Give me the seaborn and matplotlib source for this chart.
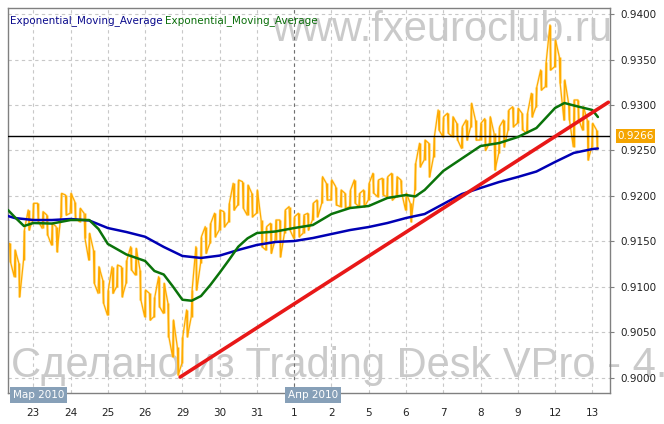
import matplotlib
matplotlib.use("Agg")
import matplotlib.pyplot as plt
import matplotlib.transforms as mtransforms
import numpy as np
import pandas as pd
import seaborn as sns

# %%
# trading days on the x axis (weekends are skipped), index 0 = 23 Mar 2010
day_labels = ["23", "24", "25", "26", "29", "30", "31", "1",
              "2", "5", "6", "7", "8", "9", "12", "13"]
month_labels = ["Мар 2010", "Апр 2010"]

# price, 3-hour bars starting late on 22 Mar
bar_start = -0.625
bar_step = 0.125
price_high = [
    0.91480, 0.91407, 0.91260, 0.91626, 0.91846, 0.91920, 0.91920, 0.91828,
    0.91791, 0.91700, 0.91663, 0.92029, 0.92011, 0.92029, 0.91938, 0.91865,
    0.91810, 0.91590, 0.91407, 0.91223, 0.91077, 0.90967, 0.91223, 0.91242,
    0.91223, 0.91297, 0.91443, 0.91425, 0.91187, 0.90967, 0.90931, 0.90894,
    0.91113, 0.91041, 0.90821, 0.90637, 0.90344, 0.90454, 0.90747, 0.90967,
    0.91443, 0.91553, 0.91663, 0.91700, 0.91810, 0.91846, 0.91828, 0.91920,
    0.92139, 0.92176, 0.92157, 0.92120, 0.92030, 0.92066, 0.91736, 0.91663,
    0.91700, 0.91736, 0.91736, 0.91846, 0.91883, 0.91773, 0.91810, 0.91791,
    0.91810, 0.91920, 0.91956, 0.92212, 0.92139, 0.92176, 0.92103, 0.92066,
    0.92030, 0.92066, 0.92176, 0.92030, 0.92066, 0.92139, 0.92249, 0.92176,
    0.92195, 0.92212, 0.92249, 0.92212, 0.92176, 0.92030, 0.91920, 0.92359,
    0.92579, 0.92615, 0.92579, 0.92652, 0.92945, 0.92871, 0.92909, 0.92871,
    0.92799, 0.92762, 0.92835, 0.93019, 0.92835, 0.92799, 0.92850, 0.92871,
    0.92689, 0.92762, 0.92835, 0.92945, 0.92981, 0.92964, 0.92909, 0.92909,
    0.93128, 0.93201, 0.93385, 0.93476, 0.93879, 0.93714, 0.93531, 0.93275,
    0.93019, 0.93055, 0.93055, 0.92981, 0.92835, 0.92799, 0.92725,
]
price_low = [
    0.91278, 0.91113, 0.90894, 0.91297, 0.91626, 0.91736, 0.91718, 0.91645,
    0.91571, 0.91462, 0.91388, 0.91773, 0.91791, 0.91810, 0.91755, 0.91718,
    0.91535, 0.91297, 0.91041, 0.90931, 0.90821, 0.90692, 0.90931, 0.91003,
    0.90894, 0.91041, 0.91187, 0.91132, 0.90857, 0.90674, 0.90637, 0.90674,
    0.90784, 0.90711, 0.90454, 0.90234, 0.90033, 0.90161, 0.90454, 0.90674,
    0.90967, 0.91260, 0.91370, 0.91480, 0.91553, 0.91626, 0.91663, 0.91718,
    0.91846, 0.91901, 0.91865, 0.91790, 0.91773, 0.91810, 0.91443, 0.91407,
    0.91370, 0.91516, 0.91333, 0.91590, 0.91626, 0.91535, 0.91553, 0.91590,
    0.91626, 0.91736, 0.91773, 0.91920, 0.91956, 0.91956, 0.91901, 0.91883,
    0.91865, 0.91883, 0.91920, 0.91883, 0.91883, 0.91956, 0.92030, 0.91992,
    0.92011, 0.91992, 0.91956, 0.91992, 0.92030, 0.91846, 0.91718, 0.92066,
    0.92322, 0.92396, 0.92212, 0.92432, 0.92725, 0.92652, 0.92689, 0.92652,
    0.92615, 0.92524, 0.92615, 0.92762, 0.92615, 0.92615, 0.92500, 0.92579,
    0.92286, 0.92469, 0.92542, 0.92725, 0.92762, 0.92799, 0.92725, 0.92689,
    0.92871, 0.92981, 0.93165, 0.93201, 0.93385, 0.93421, 0.93238, 0.92835,
    0.92835, 0.92542, 0.92835, 0.92725, 0.92396, 0.92542, 0.92524,
]

# slow EMA (blue)
ema_slow_days = [-0.68, -0.5, 0, 0.5, 1, 1.5, 2, 2.5, 3, 3.5, 4, 4.5, 5, 5.5,
                 6, 6.5, 7, 7.5, 8, 8.5, 9, 9.5, 10, 10.5, 11, 11.5, 12, 12.5,
                 13, 13.5, 14, 14.5, 15, 15.15]
ema_slow = [0.91780, 0.91758, 0.91736, 0.91736, 0.91747, 0.91731, 0.91648,
            0.91604, 0.91552, 0.91440, 0.91341, 0.91319, 0.91345, 0.91407,
            0.91462, 0.91495, 0.91505, 0.91538, 0.91582, 0.91626, 0.91659,
            0.91703, 0.91758, 0.91802, 0.91912, 0.92022, 0.92088, 0.92154,
            0.92209, 0.92269, 0.92374, 0.92473, 0.92516, 0.92522]

# fast EMA (green)
ema_fast_days = [-0.68, -0.5, -0.25, 0, 0.5, 1, 1.5, 1.75, 2, 2.5, 3, 3.25,
                 3.5, 3.75, 4, 4.25, 4.5, 4.75, 5, 5.25, 5.5, 5.75, 6, 6.5, 7,
                 7.5, 8, 8.5, 9, 9.5, 10, 10.25, 10.5, 11, 11.5, 12, 12.5, 13,
                 13.5, 14, 14.25, 14.5, 15, 15.15]
ema_fast = [0.91846, 0.91769, 0.91670, 0.91703, 0.91697, 0.91736, 0.91736,
            0.91637, 0.91473, 0.91357, 0.91286, 0.91176, 0.91137, 0.91003,
            0.90860, 0.90849, 0.90901, 0.91022, 0.91157, 0.91297, 0.91443,
            0.91535, 0.91593, 0.91610, 0.91648, 0.91681, 0.91802, 0.91868,
            0.91890, 0.91978, 0.92011, 0.91995, 0.92066, 0.92275, 0.92412,
            0.92549, 0.92582, 0.92648, 0.92747, 0.92967, 0.93022, 0.92995,
            0.92945, 0.92868]

# hand-drawn trend line and last quote
trend_days = [3.94, 15.43]
trend_price = [0.9001, 0.9303]
last_price = 0.9266

# %%
# price as a jagged high/low path (near-vertical strokes per bar)
bar_t = bar_start + bar_step * np.arange(len(price_high))
path_x, path_y = [], []
for i, (hi, lo) in enumerate(zip(price_high, price_low)):
    path_x += [bar_t[i] - 0.012, bar_t[i] + 0.012]
    path_y += [hi, lo] if i % 2 == 0 else [lo, hi]
price_df = pd.DataFrame({"day": path_x, "price": path_y})

sns.set_style("white")
plt.rcParams["font.family"] = ["DejaVu Sans"]

fig = plt.figure(figsize=(6.64, 4.24), dpi=100)
ax = fig.add_axes([8 / 664, 31 / 424, 602 / 664, 385 / 424])
ax.patch.set_visible(False)

# watermarks behind everything
wm = dict(color="#cacaca", fontsize=30, family=["Liberation Sans", "DejaVu Sans"], zorder=-1)
fig.text(612 / 664, 1 - 41 / 424, "www.fxeuroclub.ru", ha="right", va="baseline", **wm)
fig.text(11 / 664, 1 - 377 / 424, "Сделано из Trading Desk VPro - 4.0", ha="left", va="baseline", **wm)

ax.vlines(bar_t, price_low, price_high, color="#ffe28a", lw=2.2, alpha=0.55, zorder=2)
sns.lineplot(data=price_df, x="day", y="price", sort=False, estimator=None,
             color="#ffe28a", lw=1.8, alpha=0.5, ax=ax, zorder=2)
ax.vlines(bar_t, price_low, price_high, color="#ffaa00", lw=1.0, zorder=3)
sns.lineplot(data=price_df, x="day", y="price", sort=False, estimator=None,
             color="#ffaa00", lw=0.9, ax=ax, zorder=3)

ax.axhline(last_price, color="black", lw=1, zorder=4)
sns.lineplot(x=ema_slow_days, y=ema_slow, color="#0000b4", lw=1.8, ax=ax, zorder=5)
sns.lineplot(x=ema_fast_days, y=ema_fast, color="#0a730a", lw=1.8, ax=ax, zorder=5)
sns.lineplot(x=trend_days, y=trend_price, color="#e81818", lw=2.6, ax=ax, zorder=6)

ax.set_xlim(-0.679, 15.474)
ax.set_ylim(0.89835, 0.94066)
ax.set_xlabel("")
ax.set_ylabel("")

ax.set_xticks(range(len(day_labels)))
ax.set_xticklabels(day_labels)
ax.set_yticks(np.arange(0.9, 0.94001, 0.005))
ax.set_yticklabels([f"{v:.4f}" for v in np.arange(0.9, 0.94001, 0.005)])
ax.yaxis.tick_right()
ax.tick_params(axis="x", direction="out", length=3, color="#808080",
               labelsize=7.5, labelcolor="#222222", pad=8)
ax.tick_params(axis="y", direction="out", length=3, color="#808080",
               labelsize=7.5, labelcolor="#222222", pad=4.5)

ax.grid(True, color="#c8c8c8", linestyle=(0, (3, 3)), lw=0.8)
ax.set_axisbelow(True)
ax.axvline(day_labels.index("1"), color="#707070", linestyle=(0, (3, 3)), lw=0.8, zorder=1)
for s in ax.spines.values():
    s.set_color("#808080")
    s.set_linewidth(1)

# month tags under the axis
xy_blend = mtransforms.blended_transform_factory(ax.transData, ax.transAxes)
for d, label in zip([-0.545, 6.834], month_labels):
    ax.text(d, -0.006, label, transform=xy_blend, ha="left", va="center",
            fontsize=7.5, color="white", zorder=7, clip_on=False,
            bbox=dict(boxstyle="square,pad=0.3", fc="#87a0b8", ec="none"))

# last price tag on the right axis
yx_blend = mtransforms.blended_transform_factory(ax.transAxes, ax.transData)
ax.text(1.0125, last_price, f"{last_price:.4f}", transform=yx_blend, ha="left",
        va="center", fontsize=7.5, color="white", zorder=7, clip_on=False,
        bbox=dict(boxstyle="square,pad=0.15", fc="#f5a500", ec="none"))

# indicator names, top left
ax.text(0.004, 0.982, "Exponential_Moving_Average", transform=ax.transAxes,
        ha="left", va="top", fontsize=7.5, color="#0a0a8c", zorder=7)
ax.text(0.26, 0.982, "Exponential_Moving_Average", transform=ax.transAxes,
        ha="left", va="top", fontsize=7.5, color="#0a6e0a", zorder=7)

fig.savefig("out.png", dpi=100)
